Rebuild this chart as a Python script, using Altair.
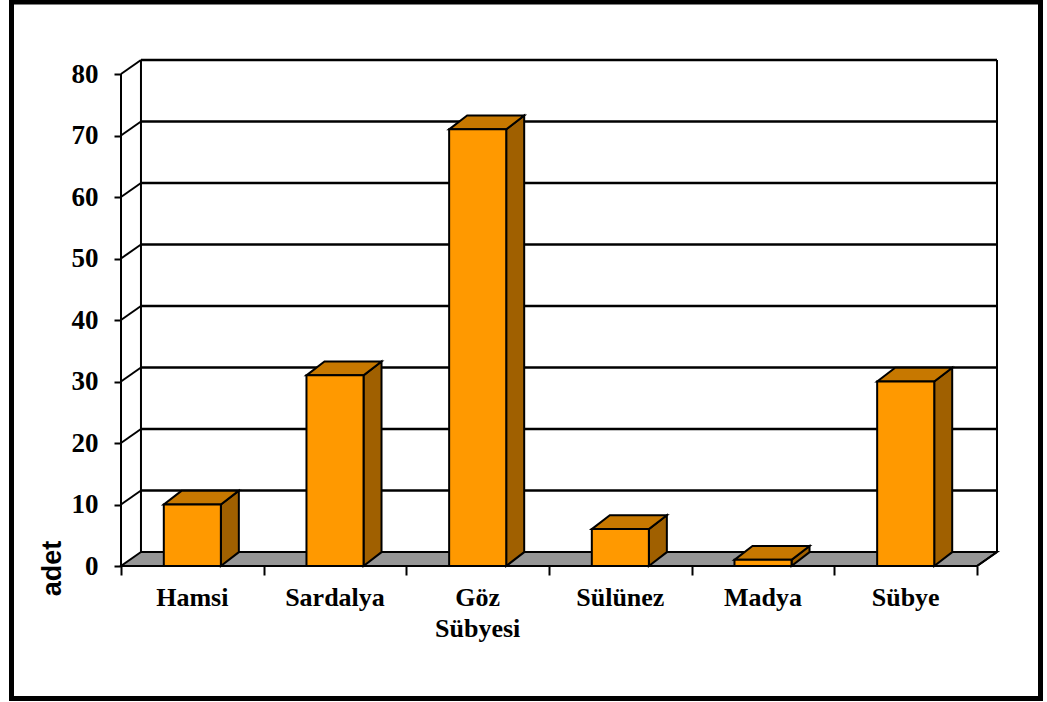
import altair as alt
import pandas as pd

# ---- data ----
categories = ["Hamsi", "Sardalya", "Göz\nSübyesi", "Sülünez", "Madya", "Sübye"]
values = [10, 31, 71, 6, 1, 30]
y_ticks = [0, 10, 20, 30, 40, 50, 60, 70, 80]
x_ticks = [0, 1, 2, 3, 4, 5, 6]

# ---- 3-D geometry (in scale units) ----
n = len(categories)
WDX, WDY = 0.14, 2.28      # depth of back wall
BDX, BDY = 0.126, 2.25     # depth of each bar
HALF = 0.2                 # half width of the bar front
YMAX = 80 + WDY
XMAX = n + WDX

FRONT = "#FF9900"
TOP = "#C77800"
SIDE = "#A06000"
FLOOR = "#969696"

bars = pd.DataFrame({
    "cat": categories,
    "v": values,
    "xl": [i + 0.5 - HALF for i in range(n)],
    "xr": [i + 0.5 + HALF for i in range(n)],
    "xc": [i + 0.5 for i in range(n)],
    "zero": [0] * n,
})

side_rows, top_rows = [], []
for i, r in bars.iterrows():
    side_rows.append({"b": i, "x": r.xr, "y": 0, "y2": r.v})
    side_rows.append({"b": i, "x": r.xr + BDX, "y": BDY, "y2": r.v + BDY})
    top_rows.append({"b": i, "y": r.v, "x": r.xl, "x2": r.xr})
    top_rows.append({"b": i, "y": r.v + BDY, "x": r.xl + BDX, "x2": r.xr + BDX})
side_df = pd.DataFrame(side_rows)
top_df = pd.DataFrame(top_rows)

floor_df = pd.DataFrame({"y": [0, WDY], "x": [0, WDX], "x2": [n, n + WDX]})

back_grid = pd.DataFrame({"y": [t + WDY for t in y_ticks if t > 0],
                          "x": WDX, "x2": n + WDX})
side_grid = pd.DataFrame({"y": [t for t in y_ticks if t > 0],
                          "y2": [t + WDY for t in y_ticks if t > 0],
                          "x": 0, "x2": WDX})
verticals = pd.DataFrame({"x": [0, WDX, n + WDX],
                          "y": [0, WDY, WDY],
                          "y2": [80, 80 + WDY, 80 + WDY]})
floor_edge = pd.DataFrame({"x": [n], "x2": [n + WDX], "y": [0], "y2": [WDY]})

xs = alt.Scale(domain=[0, XMAX], nice=False, zero=False)
ys = alt.Scale(domain=[0, YMAX], nice=False, zero=False)

x_axis = alt.Axis(
    values=x_ticks, labels=False, domain=False, grid=False, ticks=True,
    tickSize=9, tickColor="black", tickWidth=2, title=None)
y_axis = alt.Axis(
    values=y_ticks, domain=False, grid=False, tickSize=7, tickColor="black",
    tickWidth=2, labelPadding=16, labelFont="Liberation Serif",
    labelFontWeight="bold", labelFontSize=27, labelColor="black",
    title="adet", titleFont="Liberation Sans", titleFontWeight="bold",
    titleFontSize=27, titleColor="black", titleAngle=270,
    titleAlign="center", titleBaseline="middle",
    titleX=-69, titleY=508)


def X(f):
    return alt.X(f, type="quantitative", scale=xs, axis=x_axis)


def Y(f):
    return alt.Y(f, type="quantitative", scale=ys, axis=y_axis)


floor = alt.Chart(floor_df).mark_area(
    orient="horizontal", fill=FLOOR, stroke="black", strokeWidth=2
).encode(y=Y("y"), x=X("x"), x2="x2")

grid_back = alt.Chart(back_grid).mark_rule(color="black", strokeWidth=2.5).encode(
    x=X("x"), x2="x2", y=Y("y"))
grid_side = alt.Chart(side_grid).mark_rule(color="black", strokeWidth=2).encode(
    x=X("x"), x2="x2", y=Y("y"), y2="y2")
vert = alt.Chart(verticals).mark_rule(color="black", strokeWidth=2).encode(
    x=X("x"), y=Y("y"), y2="y2")
fedge = alt.Chart(floor_edge).mark_rule(color="black", strokeWidth=2).encode(
    x=X("x"), x2="x2", y=Y("y"), y2="y2")

side = alt.Chart(side_df).mark_area(
    fill=SIDE, stroke="black", strokeWidth=2, orient="vertical"
).encode(x=X("x"), y=Y("y"), y2="y2", detail="b:N")
top = alt.Chart(top_df).mark_area(
    fill=TOP, stroke="black", strokeWidth=2, orient="horizontal"
).encode(y=Y("y"), x=X("x"), x2="x2", detail="b:N")
front = alt.Chart(bars).mark_rect(fill=FRONT, stroke="black", strokeWidth=2).encode(
    x=X("xl"), x2="xr", y=Y("v"), y2="zero")

labels = alt.Chart(bars).mark_text(
    baseline="alphabetic", dy=40, font="Liberation Serif", fontWeight="bold",
    fontSize=26, color="black", lineBreak="\n", lineHeight=31
).encode(x=X("xc"), y=Y("zero"), text="cat:N")

frame_df = pd.DataFrame({"k": [0]})
frame = alt.Chart(frame_df).mark_rect(
    filled=False, stroke="black", strokeWidth=5
).encode(x=alt.value(-109.5), x2=alt.value(919.5),
         y=alt.value(-58), y2=alt.value(638.5))

chart = alt.layer(
    floor, grid_back, grid_side, vert, fedge, side, top, front, labels, frame
).properties(
    width=876, height=506,
    autosize=alt.AutoSizeParams(type="none"),
    padding={"left": 121, "top": 60, "right": 50, "bottom": 136},
    background="white",
).configure_view(strokeWidth=0)

chart.save("out.html", embed_options={"renderer": "svg", "actions": False})
